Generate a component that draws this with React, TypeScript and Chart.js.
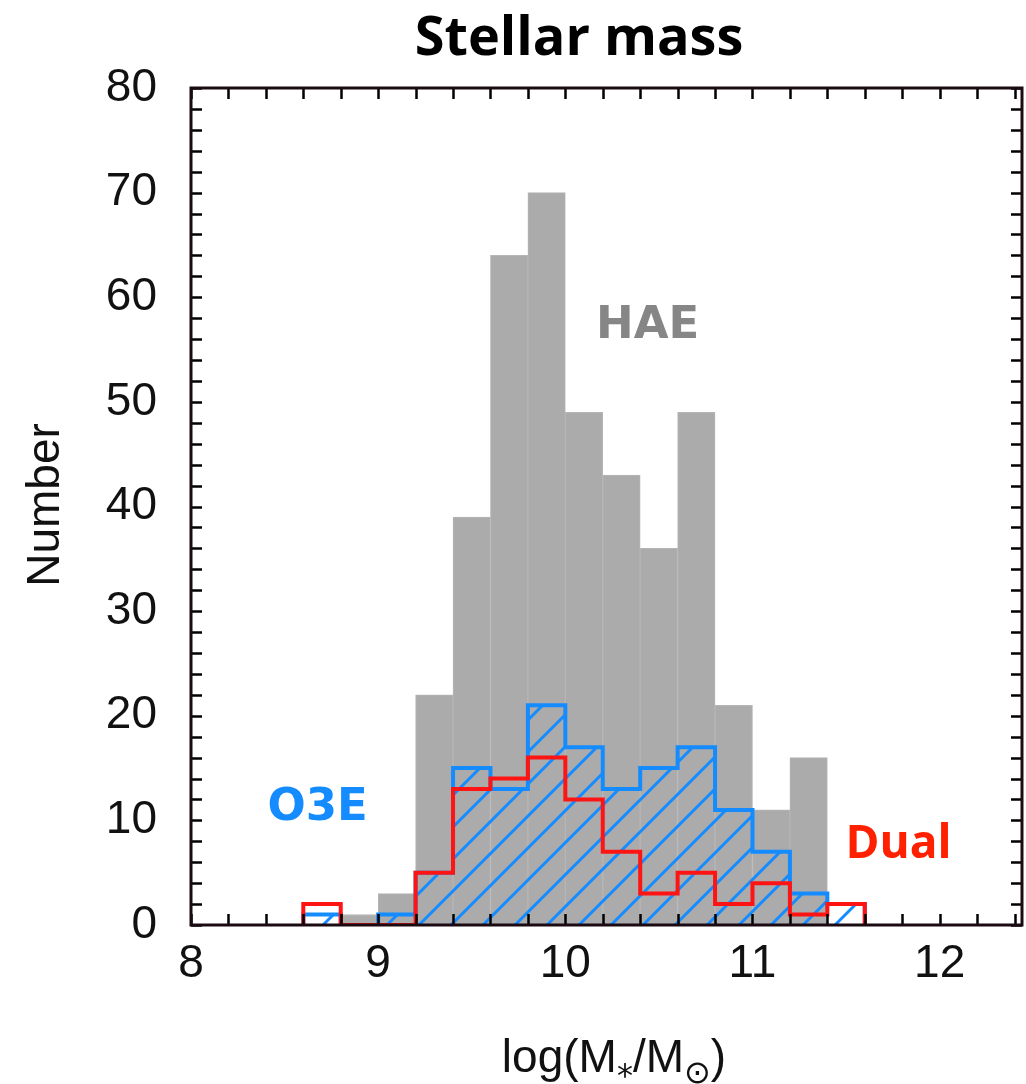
import React, { useEffect, useRef } from "react";
import { Chart, registerables } from "chart.js";

Chart.register(...registerables);

// ---- data ----
const BIN_EDGES = [8.6, 8.8, 9.0, 9.2, 9.4, 9.6, 9.8, 10.0, 10.2, 10.4, 10.6, 10.8, 11.0, 11.2, 11.4, 11.6];
const HAE = [0, 1, 3, 22, 39, 64, 70, 49, 43, 36, 49, 21, 11, 16, 0];
const O3E = [1, 0, 1, 5, 15, 13, 21, 17, 13, 15, 17, 11, 7, 3, 2];
const DUAL = [2, 0, 0, 5, 13, 14, 16, 12, 7, 3, 5, 2, 4, 1, 2];
const X_TICKS = [8, 9, 10, 11, 12];
const Y_TICKS = [0, 10, 20, 30, 40, 50, 60, 70, 80];
const X_RANGE = [8, 12.44];
const Y_RANGE = [0, 80];
const X_MINOR = 0.2;
const Y_MINOR = 2;
const SERIES_LABELS = [
  { text: "HAE", x: 10.44, y: 56.1 },
  { text: "O3E", x: 8.677, y: 10.0 },
  { text: "Dual", x: 11.78, y: 6.4 },
];

const GRAY = "#ababab";
const BLUE = "#148cff";
const RED = "#ff1414";

function stepPoints(values: number[]) {
  const pts: { x: number; y: number }[] = [{ x: BIN_EDGES[0], y: 0 }];
  values.forEach((v, i) => pts.push({ x: BIN_EDGES[i], y: v }));
  pts.push({ x: BIN_EDGES[values.length], y: 0 });
  return pts;
}

export default function App() {
  const ref = useRef<HTMLCanvasElement | null>(null);

  useEffect(() => {
    const canvas = ref.current!;
    const ctx = canvas.getContext("2d")!;

    const tile = document.createElement("canvas");
    tile.width = 32;
    tile.height = 32;
    const tc = tile.getContext("2d")!;
    tc.strokeStyle = BLUE;
    tc.lineWidth = 3;
    tc.beginPath();
    tc.moveTo(-4, 36);
    tc.lineTo(36, -4);
    tc.moveTo(-4, 4);
    tc.lineTo(4, -4);
    tc.moveTo(28, 36);
    tc.lineTo(36, 28);
    tc.stroke();
    const pattern = ctx.createPattern(tile, "repeat")!;

    const framePlugin = {
      id: "frame",
      afterDraw(chart: any) {
        const c = chart.ctx;
        const { left, right, top, bottom } = chart.chartArea;
        const xs = chart.scales.x;
        const ys = chart.scales.y;
        c.save();
        c.strokeStyle = "#000";
        c.lineWidth = 2.5;
        const tl = 11;
        c.beginPath();
        for (let v = X_RANGE[0]; v <= X_RANGE[1] + 1e-9; v += X_MINOR) {
          const px = Math.round(xs.getPixelForValue(v)) + 0.5;
          c.moveTo(px, bottom);
          c.lineTo(px, bottom - tl);
          c.moveTo(px, top);
          c.lineTo(px, top + tl);
        }
        for (let v = Y_RANGE[0]; v <= Y_RANGE[1] + 1e-9; v += Y_MINOR) {
          const py = Math.round(ys.getPixelForValue(v)) + 0.5;
          c.moveTo(left, py);
          c.lineTo(left + tl, py);
          c.moveTo(right, py);
          c.lineTo(right - tl, py);
        }
        c.stroke();
        c.lineWidth = 3;
        c.strokeStyle = "#1a0a12";
        c.strokeRect(left, top, right - left, bottom - top);

        // series labels
        c.textAlign = "center";
        c.textBaseline = "alphabetic";
        const colors: Record<string, string> = { HAE: "#868686", O3E: BLUE, Dual: "#ff2000" };
        SERIES_LABELS.forEach((l) => {
          c.fillStyle = colors[l.text];
          c.font = l.text === "Dual" ? "bold 46px 'Open Sans'" : "bold 45px 'DejaVu Sans'";
          c.fillText(l.text, xs.getPixelForValue(l.x), ys.getPixelForValue(l.y));
        });

        // title
        c.fillStyle = "#000";
        c.font = "bold 54px 'Open Sans'";
        c.fillText("Stellar mass", 579, 55);

        // y title
        c.save();
        c.translate(59, 505);
        c.rotate(-Math.PI / 2);
        c.font = "46px 'Liberation Sans'";
        c.fillStyle = "#111";
        c.fillText("Number", 0, 0);
        c.restore();

        // x title: log(M*/M⊙)
        c.fillStyle = "#111";
        c.textAlign = "left";
        const big = "46px 'Liberation Sans'";
        const small = "32px 'DejaVu Sans'";
        const parts = [
          { t: "log(M", f: big, dy: 0 },
          { t: "*", f: small, dy: 14 },
          { t: "/M", f: big, dy: 0 },
          { t: "⊙", f: small, dy: 11 },
          { t: ")", f: big, dy: 0 },
        ];
        let w = 0;
        parts.forEach((p) => {
          c.font = p.f;
          w += c.measureText(p.t).width;
        });
        let x = 614 - w / 2;
        const base = 1072;
        parts.forEach((p) => {
          c.font = p.f;
          c.fillText(p.t, x, base + p.dy);
          x += c.measureText(p.t).width;
        });
        c.restore();
      },
    };

    const chart = new Chart(ctx, {
      type: "bar",
      data: {
        datasets: [
          {
            type: "bar",
            label: "HAE",
            data: HAE.map((v, i) => ({ x: (BIN_EDGES[i] + BIN_EDGES[i + 1]) / 2, y: v })),
            backgroundColor: GRAY,
            borderColor: "#b6b6b6",
            borderWidth: 1,
            barPercentage: 1,
            categoryPercentage: 1,
            order: 3,
          } as any,
          {
            type: "line",
            label: "O3E",
            data: stepPoints(O3E),
            stepped: "before",
            borderColor: BLUE,
            borderWidth: 4,
            backgroundColor: pattern,
            fill: "origin",
            pointRadius: 0,
            order: 2,
          } as any,
          {
            type: "line",
            label: "Dual",
            data: stepPoints(DUAL),
            stepped: "before",
            borderColor: RED,
            borderWidth: 4,
            fill: false,
            pointRadius: 0,
            order: 1,
          } as any,
        ],
      },
      options: {
        responsive: false,
        animation: false,
        devicePixelRatio: 1,
        layout: { padding: { left: 0, right: 4, top: 88, bottom: 0 } },
        plugins: {
          legend: { display: false },
          tooltip: { enabled: false },
          title: { display: false },
        },
        scales: {
          x: {
            type: "linear",
            min: X_RANGE[0],
            max: X_RANGE[1],
            offset: false,
            grid: { display: false, drawTicks: false },
            border: { display: false },
            afterBuildTicks: (s: any) => {
              s.ticks = X_TICKS.map((v) => ({ value: v }));
            },
            afterFit: (s: any) => {
              s.height = 159;
            },
            ticks: {
              padding: 12,
              maxRotation: 0,
              autoSkip: false,
              color: "#111",
              font: { family: "'Liberation Sans'", size: 46 },
              callback: (v: any) => String(v),
            },
          },
          y: {
            type: "linear",
            min: Y_RANGE[0],
            max: Y_RANGE[1],
            grid: { display: false, drawTicks: false },
            border: { display: false },
            afterBuildTicks: (s: any) => {
              s.ticks = Y_TICKS.map((v) => ({ value: v }));
            },
            afterFit: (s: any) => {
              s.width = 191;
            },
            ticks: {
              padding: 34,
              color: "#111",
              font: { family: "'Liberation Sans'", size: 46 },
              callback: (v: any) => String(v),
            },
          },
        },
      },
      plugins: [framePlugin],
    });

    return () => chart.destroy();
  }, []);

  return (
    <div style={{ position: "absolute", left: 0, top: 0, width: 1026, height: 1084, background: "#fff" }}>
      <canvas ref={ref} width={1026} height={1084} style={{ display: "block" }} />
    </div>
  );
}
